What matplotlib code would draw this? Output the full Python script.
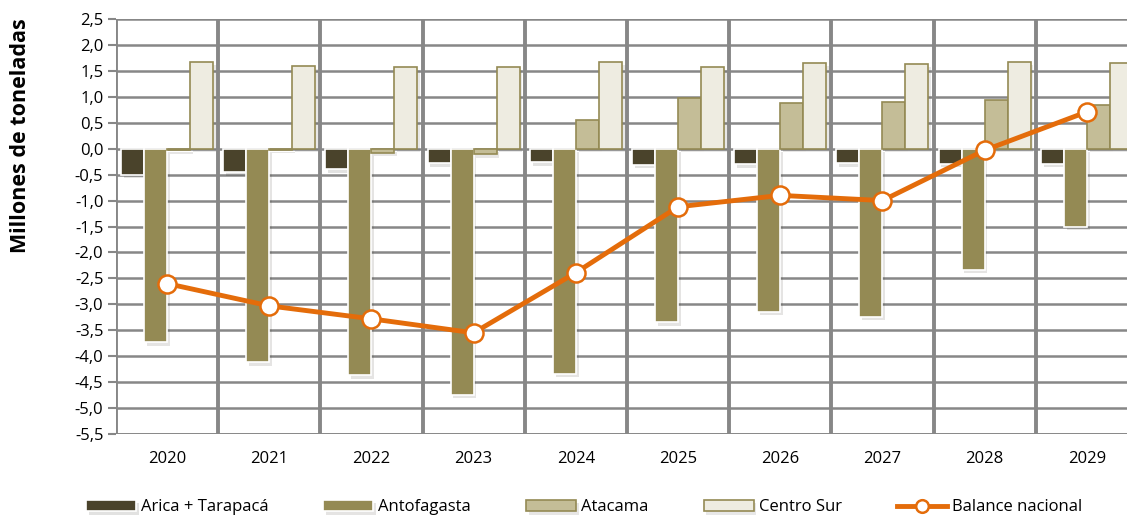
import matplotlib as mpl
mpl.use('Agg')
import matplotlib.pyplot as plt
import matplotlib.patheffects as pe
import numpy as np

plt.rcParams['font.family'] = ['Open Sans', 'DejaVu Sans']

years = ['2020', '2021', '2022', '2023', '2024', '2025', '2026', '2027', '2028', '2029']
arica = [-0.50, -0.45, -0.40, -0.28, -0.26, -0.31, -0.30, -0.28, -0.29, -0.29]
antofagasta = [-3.73, -4.12, -4.37, -4.74, -4.34, -3.35, -3.14, -3.24, -2.33, -1.50]
atacama = [-0.03, -0.02, -0.08, -0.11, 0.56, 0.98, 0.89, 0.90, 0.93, 0.85]
centro_sur = [1.68, 1.60, 1.58, 1.58, 1.68, 1.58, 1.66, 1.64, 1.68, 1.65]
balance = [-2.60, -3.03, -3.28, -3.55, -2.39, -1.12, -0.90, -1.00, -0.03, 0.71]

series = [
    ('Arica + Tarapacá', arica, '#4A432B', 'white'),
    ('Antofagasta', antofagasta, '#948A54', 'white'),
    ('Atacama', atacama, '#C4BD97', '#948A54'),
    ('Centro Sur', centro_sur, '#EEECE1', '#948A54'),
]

fig = plt.figure(figsize=(11.27, 5.21), dpi=100)
ax = fig.add_axes([0.1029, 0.167, 0.9068, 0.7965])

x = np.arange(len(years))
w = 0.225
# sombra suave como en Excel
shadow = [pe.SimplePatchShadow(offset=(2, -2.5), alpha=0.12), pe.Normal()]
for i, (name, vals, col, ec) in enumerate(series):
    bars = ax.bar(x + (i - 1.5) * w, vals, w, color=col, edgecolor=ec,
                  linewidth=1.2, label=name, zorder=3)
    for b in bars:
        b.set_path_effects(shadow)

ax.plot(x, balance, color='#E46C0A', lw=3.5, marker='o', ms=13,
        mfc='white', mec='#E46C0A', mew=1.8, label='Balance nacional', zorder=4)

ax.set_xlim(-0.5, 9.5)
ax.set_ylim(-5.5, 2.5)
yt = np.arange(-5.5, 2.51, 0.5)
ax.set_yticks(yt)
ax.set_yticklabels([('%.1f' % v).replace('.', ',') for v in yt], fontsize=12)
ax.set_xticks(x)
ax.set_xticklabels(years, fontsize=12)
ax.tick_params(axis='y', length=6, width=1.5, color='#878787', pad=3)
ax.tick_params(axis='x', length=0, pad=12)

ax.yaxis.grid(True, color='#878787', lw=1.8, zorder=0)
for k in range(len(years) + 1):
    ax.axvline(k - 0.5, color='#878787', lw=2.8, zorder=0)
for s in ax.spines.values():
    s.set_visible(False)
ax.axhline(-5.5, color='#878787', lw=2, zorder=1)

fig.text(0.018, 0.74, 'Millones de toneladas', rotation=90, fontsize=15.5,
         fontweight='bold', ha='center', va='center')

handles, labels = ax.get_legend_handles_labels()
order = [1, 2, 3, 4, 0]
leg = fig.legend([handles[i] for i in order], [labels[i] for i in order],
                 loc='lower center', bbox_to_anchor=(0.518, -0.018),
                 ncol=5, frameon=False, fontsize=12, handlelength=3.0,
                 handletextpad=0.3, columnspacing=3.3, handleheight=0.7,
                 markerscale=0.7)

fig.savefig('out.png', dpi=100)
